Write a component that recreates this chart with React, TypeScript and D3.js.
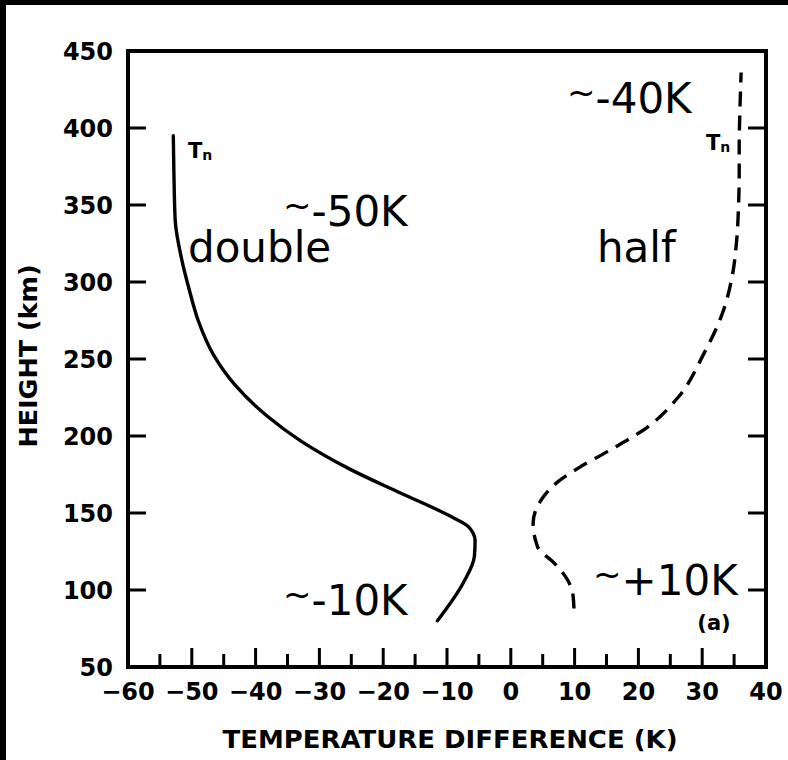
import React from "react";
import * as d3 from "d3";

// Temperature difference (K) versus height (km) for two Tn profiles
const doubleTemp = [-52.9, -52.8, -52.6, -51.6, -50.4, -49, -46.5, -43.2, -38.2, -33, -25, -17.3, -9.5, -6.6, -5.6, -5.7, -7.4, -11.5];
const doubleHeight = [395, 370, 340, 315, 295, 275, 252, 233, 213, 197, 178, 163, 148, 141, 132, 122, 105, 80];

const halfTemp = [36.1, 35.9, 35.8, 35.8, 35.7, 35.4, 34.8, 33.2, 30.2, 26.2, 21.5, 15.2, 10.5, 7.6, 4.7, 3.5, 4.2, 6.8, 8.9, 9.7, 9.9];
const halfHeight = [436, 410, 390, 370, 350, 327, 306, 280, 253, 225, 206, 190, 179, 171, 158, 143.5, 128, 117.5, 106.5, 98, 88];

const tempTicks = [-60, -50, -40, -30, -20, -10, 0, 10, 20, 30, 40];
const tempMinorTicks = [-55, -45, -35, -25, -15, -5, 5, 15, 25, 35];
const heightTicks = [50, 100, 150, 200, 250, 300, 350, 400, 450];
const heightInnerTicks = [100, 150, 200, 250, 300, 350, 400];

const annotations = [
  { text: "-40K", x: 567, y: 113 },
  { text: "-50K", x: 283, y: 226 },
  { text: "-10K", x: 283, y: 615 },
  { text: "+10K", x: 593, y: 595 },
];
const words = [
  { text: "double", x: 188, y: 262 },
  { text: "half", x: 597, y: 262 },
];

const W = 788;
const H = 760;

export default function App() {
  const x = d3.scaleLinear().domain([-60, 40]).range([128, 766]);
  const y = d3.scaleLinear().domain([50, 450]).range([667, 51]);

  const line = d3
    .line<[number, number]>()
    .x((d) => x(d[0]))
    .y((d) => y(d[1]))
    .curve(d3.curveMonotoneY);

  const byHeight = (a: [number, number], b: [number, number]) => a[1] - b[1];
  const doublePts: [number, number][] = doubleTemp.map((t, i) => [t, doubleHeight[i]] as [number, number]).sort(byHeight);
  const halfPts: [number, number][] = halfTemp.map((t, i) => [t, halfHeight[i]] as [number, number]).sort(byHeight);

  const fmt = (d: number) => (d < 0 ? `\u2212${-d}` : `${d}`);
  const bold = { fontFamily: "'DejaVu Sans', sans-serif", fontWeight: 700 };
  const hand = "'DejaVu Sans', sans-serif";
  const x0 = x(-60), x1 = x(40), yTop = y(450), yBot = y(50);

  return (
    <svg width={W} height={H} style={{ position: "absolute", left: 0, top: 0, background: "#fff" }}>
      <rect x={0} y={0} width={W} height={H} fill="#fff" />
      {/* dark frame edges */}
      <rect x={0} y={0} width={W} height={5} fill="#000" />
      <rect x={0} y={0} width={6} height={H} fill="#000" />

      {/* plot box */}
      <rect x={x0} y={yTop} width={x1 - x0} height={yBot - yTop} fill="none" stroke="#000" strokeWidth={4} />

      {/* bottom ticks, pointing inward */}
      {tempTicks.filter((t) => t > -60 && t < 40).map((t) => (
        <line key={`M${t}`} x1={x(t)} x2={x(t)} y1={yBot} y2={yBot - 19} stroke="#000" strokeWidth={3} />
      ))}
      {tempMinorTicks.map((t) => (
        <line key={`m${t}`} x1={x(t)} x2={x(t)} y1={yBot} y2={yBot - 13} stroke="#000" strokeWidth={3} />
      ))}
      {/* left and right ticks, pointing inward */}
      {heightInnerTicks.map((h) => (
        <g key={`h${h}`}>
          <line x1={x0} x2={x0 + 18} y1={y(h)} y2={y(h)} stroke="#000" strokeWidth={3} />
          <line x1={x1} x2={x1 - 18} y1={y(h)} y2={y(h)} stroke="#000" strokeWidth={3} />
        </g>
      ))}

      {/* tick labels */}
      {tempTicks.map((t) => (
        <text key={`tl${t}`} x={x(t)} y={700} textAnchor="middle" fontSize={24} {...bold}>
          {fmt(t)}
        </text>
      ))}
      {heightTicks.map((h) => (
        <text key={`hl${h}`} x={113} y={y(h)} dy="0.37em" textAnchor="end" fontSize={24} {...bold}>
          {h}
        </text>
      ))}

      {/* axis titles */}
      <text x={450} y={748} textAnchor="middle" fontSize={25} textLength={455} lengthAdjust="spacingAndGlyphs" {...bold}>
        TEMPERATURE DIFFERENCE (K)
      </text>
      <text
        transform="translate(37,356) rotate(-90)"
        textAnchor="middle"
        fontSize={25}
        textLength={183}
        lengthAdjust="spacingAndGlyphs"
        {...bold}
      >
        HEIGHT (km)
      </text>

      {/* profiles */}
      <path d={line(doublePts) ?? ""} fill="none" stroke="#000" strokeWidth={3.4} strokeLinecap="round" />
      <path d={line(halfPts) ?? ""} fill="none" stroke="#000" strokeWidth={3.4} strokeDasharray="15 9" />

      {/* curve labels */}
      <text x={188} y={158} fontSize={21} {...bold}>
        T<tspan fontSize={14} dy={2}>n</tspan>
      </text>
      <text x={706} y={150} fontSize={21} {...bold}>
        T<tspan fontSize={14} dy={2}>n</tspan>
      </text>
      <text x={714} y={630} textAnchor="middle" fontSize={21} {...bold}>
        (a)
      </text>

      {/* annotations */}
      {annotations.map((a) => (
        <text key={a.text} x={a.x} y={a.y} fontSize={42} fontFamily={hand} fill="#000">
          <tspan fontSize={34} dy={-9}>~</tspan>
          <tspan dy={9}>{a.text}</tspan>
        </text>
      ))}
      {words.map((a) => (
        <text key={a.text} x={a.x} y={a.y} fontSize={42} fontFamily={hand} fill="#000">
          {a.text}
        </text>
      ))}
    </svg>
  );
}
